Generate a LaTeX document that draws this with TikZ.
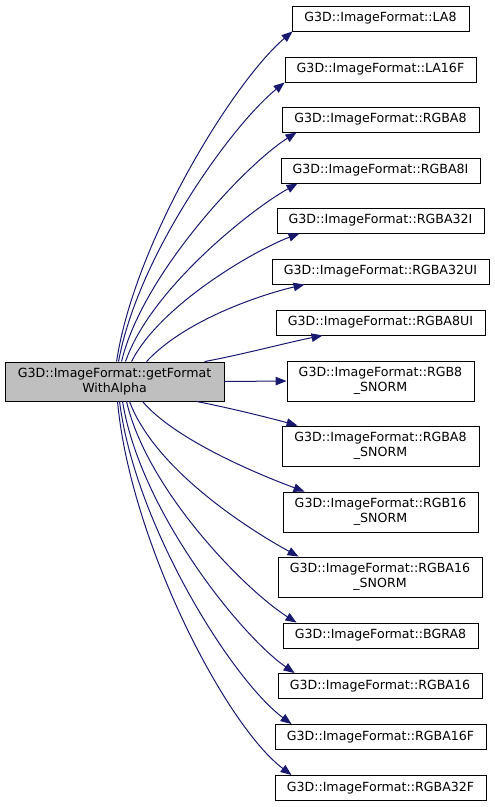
\documentclass[tikz,border=0pt]{standalone}
\usepackage{fontspec}
\setmainfont{DejaVu Sans}
\usetikzlibrary{arrows.meta,calc}
\definecolor{edgeblue}{HTML}{191970}
\definecolor{srcfill}{HTML}{BFBFBF}
\tikzset{
  box/.style={draw=black,line width=0.9pt,fill=white,inner sep=0pt,minimum height=25pt,
    font=\fontsize{12.6}{15}\selectfont,align=center},
  tall/.style={minimum height=40pt},
  srcbox/.style={box,fill=srcfill,minimum height=39pt},
  edge/.style={draw=edgeblue,line width=1pt,-{Triangle[length=11pt,width=8.5pt]}}
}
\begin{document}
\begin{tikzpicture}[x=1pt,y=-1pt]
\useasboundingbox (0,0) rectangle (495,807);
\node[srcbox,minimum width=219pt] (src) at (114.5,381.5) {G3D::ImageFormat::getFormat\\WithAlpha};
\node[box,minimum width=177pt] (t1) at (380.5,18.5) {G3D::ImageFormat::LA8};
\node[box,minimum width=191pt] (t2) at (380.5,69.5) {G3D::ImageFormat::LA16F};
\node[box,minimum width=197pt] (t3) at (380.5,119.5) {G3D::ImageFormat::RGBA8};
\node[box,minimum width=199pt] (t4) at (380.5,170.5) {G3D::ImageFormat::RGBA8I};
\node[box,minimum width=207pt] (t5) at (380.5,220.5) {G3D::ImageFormat::RGBA32I};
\node[box,minimum width=217pt] (t6) at (380.5,271.5) {G3D::ImageFormat::RGBA32UI};
\node[box,minimum width=209pt] (t7) at (380.5,322.5) {G3D::ImageFormat::RGBA8UI};
\node[box,tall,minimum width=187pt] (t8) at (380.5,381) {G3D::ImageFormat::RGB8\\\_SNORM};
\node[box,tall,minimum width=197pt] (t9) at (380.5,446) {G3D::ImageFormat::RGBA8\\\_SNORM};
\node[box,tall,minimum width=195pt] (t10) at (380.5,512) {G3D::ImageFormat::RGB16\\\_SNORM};
\node[box,tall,minimum width=204pt] (t11) at (380,577) {G3D::ImageFormat::RGBA16\\\_SNORM};
\node[box,minimum width=195pt] (t12) at (380.5,635.5) {G3D::ImageFormat::BGRA8};
\node[box,minimum width=204pt] (t13) at (380,686) {G3D::ImageFormat::RGBA16};
\node[box,minimum width=211pt] (t14) at (380.5,737) {G3D::ImageFormat::RGBA16F};
\node[box,minimum width=211pt] (t15) at (380.5,788) {G3D::ImageFormat::RGBA32F};
% top edges
\draw[edge] ($(src.north west)+(112,0)$) .. controls (135,240) and (235,80) .. ($(t1.south west)+(1,0)$);
\draw[edge] ($(src.north west)+(114,0)$) .. controls (138,255) and (232,125) .. (t2.south west);
\draw[edge] ($(src.north west)+(117,0)$) .. controls (142,275) and (245,165) .. ($(t3.south west)+(15,0)$);
\draw[edge] ($(src.north west)+(121,0)$) .. controls (150,290) and (250,210) .. ($(t4.south west)+(17,0)$);
\draw[edge] ($(src.north west)+(127,0)$) .. controls (160,305) and (255,250) .. ($(t5.south west)+(23,0)$);
\draw[edge] ($(src.north west)+(142,0)$) .. controls (185,320) and (260,295) .. ($(t6.south west)+(33,0)$);
\draw[edge] ($(src.north west)+(200,0)$) .. controls (240,355) and (290,342) .. ($(t7.south west)+(47,0)$);
\draw[edge] (src.east) -- (t8.west);
% bottom edges
\draw[edge] ($(src.south west)+(192,0)$) .. controls (230,408) and (270,418) .. ($(t9.north west)+(16,0)$);
\draw[edge] ($(src.south west)+(138,0)$) .. controls (175,440) and (260,475) .. ($(t10.north west)+(22,0)$);
\draw[edge] ($(src.south west)+(125,0)$) .. controls (155,470) and (250,530) .. ($(t11.north west)+(21,0)$);
\draw[edge] ($(src.south west)+(122,0)$) .. controls (147,490) and (245,590) .. ($(t12.north west)+(14,0)$);
\draw[edge] ($(src.south west)+(118,0)$) .. controls (140,510) and (240,635) .. ($(t13.north west)+(17,0)$);
\draw[edge] ($(src.south west)+(115,0)$) .. controls (135,525) and (232,680) .. ($(t14.north west)+(17,0)$);
\draw[edge] ($(src.south west)+(113,0)$) .. controls (130,540) and (225,725) .. ($(t15.north west)+(17,0)$);
\end{tikzpicture}
\end{document}
